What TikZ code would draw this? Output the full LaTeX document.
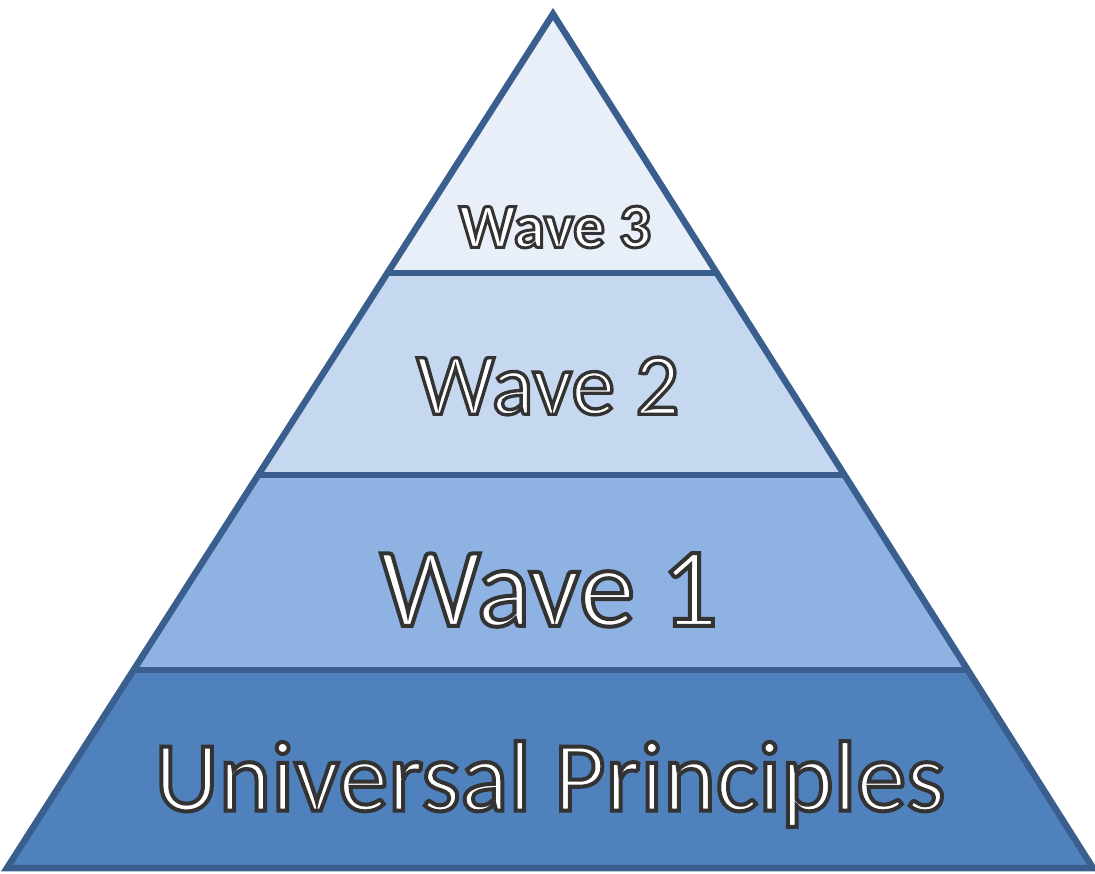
\documentclass[tikz,border=0pt]{standalone}
\usepackage{fontspec}
\setmainfont{Carlito}
\usepackage{xcolor}
\usepackage{tikz}
\usetikzlibrary{calc}

\definecolor{rim}{HTML}{3A5F8F}
\definecolor{tier3}{HTML}{E9EFF8}
\definecolor{tier2}{HTML}{C6D8F0}
\definecolor{tier1}{HTML}{8EB2E1}
\definecolor{tier0}{HTML}{4F81BD}
% white letters with a dark rim
\newcommand{\rimtext}[2][1.8]{\special{pdf:literal direct 2 Tr #1 w 0.2 0.2 0.2 RG}#2\special{pdf:literal direct 0 Tr}}

\begin{document}
\begin{tikzpicture}[
    x=1pt,y=-1pt,
    rimline/.style={draw=rim,line width=6.5pt,line join=miter},
    label/.style={text=white,inner sep=0pt,anchor=center}
]
\useasboundingbox (0,0) rectangle (1095,873);
% triangle corners
\coordinate (top) at (553,14);
\coordinate (bl) at (7,868);
\coordinate (br) at (1093,868);
% tier boundaries
\coordinate (l3) at ($(top)!0.303!(bl)$);
\coordinate (r3) at ($(top)!0.303!(br)$);
\coordinate (l2) at ($(top)!0.540!(bl)$);
\coordinate (r2) at ($(top)!0.540!(br)$);
\coordinate (l1) at ($(top)!0.768!(bl)$);
\coordinate (r1) at ($(top)!0.768!(br)$);
% fills
\fill[tier3] (top) -- (r3) -- (l3) -- cycle;
\fill[tier2] (l3) -- (r3) -- (r2) -- (l2) -- cycle;
\fill[tier1] (l2) -- (r2) -- (r1) -- (l1) -- cycle;
\fill[tier0] (l1) -- (r1) -- (br) -- (bl) -- cycle;
% outline
\draw[rimline] (top) -- (br) -- (bl) -- cycle;
\draw[rimline] (l3) -- (r3);
\draw[rimline] (l2) -- (r2);
\draw[rimline] (l1) -- (r1);
% labels
\node[label,font=\bfseries\fontsize{63}{65}\selectfont] (w3) at (555,227) {\rimtext[3]{Wave 3}};
\node[label,font=\fontsize{88}{90}\selectfont] (w2) at (548,386) {\rimtext[3.4]{Wave 2}};
\node[label,font=\fontsize{113}{115}\selectfont] (w1) at (549,590) {\rimtext[4]{Wave 1}};
\node[label,font=\fontsize{100}{102}\selectfont] (up) at (550,784) {\rimtext[4]{Universal Principles}};
\end{tikzpicture}
\end{document}
